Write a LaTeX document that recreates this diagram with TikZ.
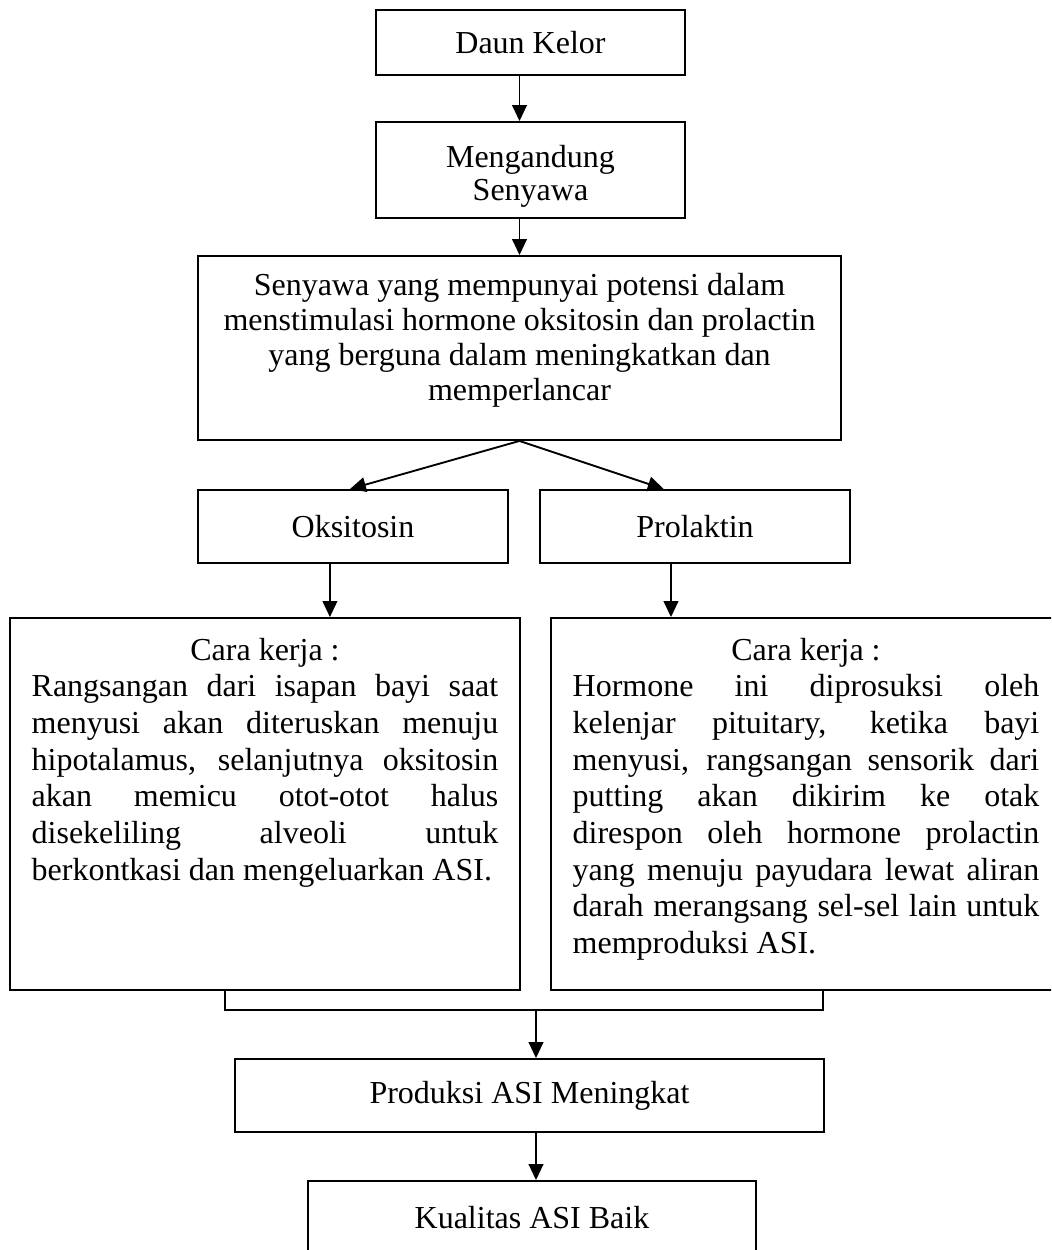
\documentclass[tikz,border=0pt]{standalone}
\usepackage{fontspec}
\setmainfont{Liberation Serif}
\usetikzlibrary{arrows.meta,calc}
\newcommand\myjline[1]{\makebox[350pt][s]{#1}\par}
\newcommand\mylastline[1]{\makebox[350pt][l]{#1}\par}
\newcommand\myhead[1]{\makebox[350pt][c]{#1}\par}
\begin{document}
\begin{tikzpicture}[x=0.75pt,y=-0.75pt,
  box/.style={draw, line width=1.4pt, inner sep=0pt, align=center, font=\fontsize{24}{26.25}\selectfont},
  arr/.style={line width=1.4pt, -{Triangle[length=12pt,width=11pt]}},
  ln/.style={line width=1.4pt},
  txt/.style={inner sep=0pt, anchor=base, font=\fontsize{24}{27.5}\selectfont}]
\useasboundingbox (0,0) rectangle (1051,1250);
\clip (0,0) rectangle (1051,1250);
% boxes
\node[box, minimum width=231.75pt, minimum height=48.75pt] (b1) at (530.5,42.5) {Daun Kelor};
\node[box, minimum width=231.75pt, minimum height=72pt, font=\fontsize{24}{24.75}\selectfont] (b2) at (530.5,170) {\rule{0pt}{26pt}Mengandung\\Senyawa};
\node[box, minimum width=482.25pt, minimum height=138pt] (b3) at (519.5,348) {Senyawa yang mempunyai potensi dalam\\menstimulasi hormone oksitosin dan prolactin\\yang berguna dalam meningkatkan dan\\memperlancar\rule[-16.5pt]{0pt}{16.5pt}};
\node[box, minimum width=232.5pt, minimum height=54.75pt] (oks) at (353,526.5) {Oksitosin};
\node[box, minimum width=232.5pt, minimum height=54.75pt] (pro) at (695,526.5) {Prolaktin};
\node[box, minimum width=382.5pt, minimum height=279pt] (lbox) at (265,804) {};
\node[box, minimum width=382.5pt, minimum height=279pt] (rbox) at (806,804) {};
\node[txt] (ltxt) at (265,660) {\begin{minipage}[t]{350pt}\fontsize{24}{27.5}\selectfont
\myhead{Cara kerja :}
\myjline{Rangsangan dari isapan bayi saat}
\myjline{menyusi akan diteruskan menuju}
\myjline{hipotalamus, selanjutnya oksitosin}
\myjline{akan memicu otot-otot halus}
\myjline{disekeliling alveoli untuk}
\mylastline{berkontkasi dan mengeluarkan ASI.}
\end{minipage}};
\node[txt] (rtxt) at (806,660) {\begin{minipage}[t]{350pt}\fontsize{24}{27.5}\selectfont
\myhead{Cara kerja :}
\myjline{Hormone ini diprosuksi oleh}
\myjline{kelenjar pituitary, ketika bayi}
\myjline{menyusi, rangsangan sensorik dari}
\myjline{putting akan dikirim ke otak}
\myjline{direspon oleh hormone prolactin}
\myjline{yang menuju payudara lewat aliran}
\myjline{darah merangsang sel-sel lain untuk}
\mylastline{memproduksi ASI.}
\end{minipage}};
\node[box, minimum width=441.75pt, minimum height=54.75pt] (prod) at (529.5,1095.5) {Produksi ASI Meningkat};
\node[box, minimum width=336pt, minimum height=54.75pt] (kual) at (532,1217.5) {Kualitas ASI Baik};
% connectors
\draw[arr] (b1.south -| b3.north) -- (b2.north -| b3.north);
\draw[arr] (b2.south -| b3.north) -- (b3.north);
\draw[arr] (b3.south) -- ($(oks.north west)!0.49!(oks.north east)$);
\draw[arr] (b3.south) -- ($(pro.north west)!0.4!(pro.north east)$);
\coordinate (oa) at ($(oks.south west)!0.426!(oks.south east)$);
\draw[arr] (oa) -- (oa |- lbox.north);
\coordinate (pa) at ($(pro.south west)!0.423!(pro.south east)$);
\draw[arr] (pa) -- (pa |- rbox.north);
\coordinate (bl) at (225,1010);
\coordinate (br) at (823,1010);
\coordinate (bm) at (536,1010);
\draw[ln] (bl |- lbox.south) -- (bl) -- (br) -- (br |- rbox.south);
\draw[arr] (bm) -- (bm |- prod.north);
\draw[arr] (prod.south -| bm) -- (kual.north -| bm);
\end{tikzpicture}
\end{document}
